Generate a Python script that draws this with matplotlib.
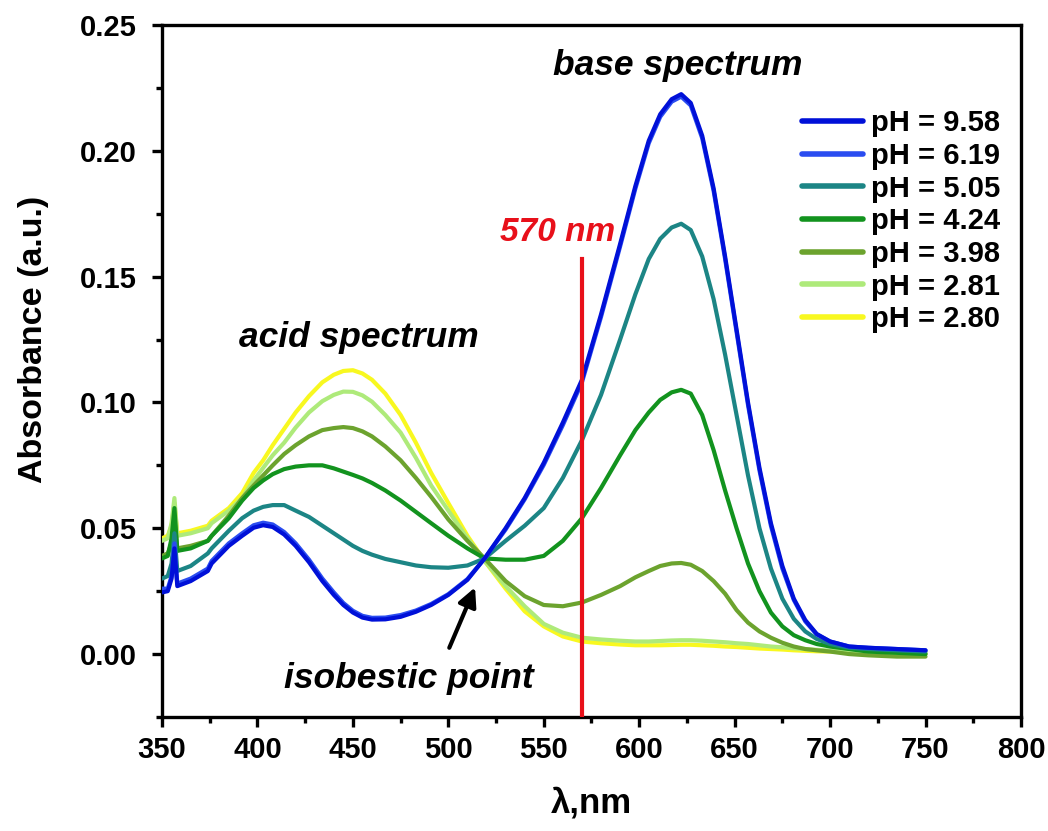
import matplotlib
matplotlib.use("Agg")
import matplotlib.pyplot as plt
from matplotlib.ticker import MultipleLocator

plt.rcParams['font.family'] = ['Liberation Sans', 'DejaVu Sans']

wavelength = [350, 353, 355, 356.5, 358, 365, 374, 376, 385, 392, 398, 403, 408, 414, 420,
              427, 434, 440, 445, 450, 455, 460, 467, 475, 483, 491, 500, 510,
              519, 530, 540, 550, 560, 570, 580, 590, 598, 605, 611, 617, 622, 627, 633,
              639, 645, 651, 657, 663, 669, 675, 681, 687, 693, 700, 710, 720, 735, 750]

ph_958 = [0.0245, 0.025, 0.030, 0.042, 0.027, 0.029, 0.033, 0.036, 0.043, 0.047, 0.0502, 0.0512,
          0.0505, 0.0475, 0.043, 0.0365, 0.029, 0.0235, 0.0195, 0.0165, 0.0145, 0.0137, 0.0138,
          0.0148, 0.0168, 0.0195, 0.0235, 0.0295,
          0.038, 0.050, 0.062, 0.076, 0.092, 0.109, 0.135, 0.163, 0.186, 0.204, 0.2145, 0.2205,
          0.2225, 0.219, 0.206, 0.185, 0.158, 0.129, 0.100, 0.074, 0.052, 0.035, 0.022, 0.0135,
          0.008, 0.005, 0.003, 0.0025, 0.002, 0.0015]
ph_619 = [0.026, 0.026, 0.031, 0.044, 0.028, 0.030, 0.034, 0.037, 0.044, 0.048, 0.0512, 0.0522,
          0.0515, 0.0485, 0.044, 0.0375, 0.030, 0.0245, 0.0203, 0.0172, 0.0152, 0.0144, 0.0145,
          0.0155, 0.0173, 0.0199, 0.0238, 0.0298,
          0.038, 0.0495, 0.0615, 0.0752, 0.091, 0.108, 0.134, 0.162, 0.185, 0.203, 0.2135, 0.2195,
          0.2215, 0.218, 0.205, 0.184, 0.157, 0.128, 0.099, 0.073, 0.051, 0.034, 0.0215, 0.013,
          0.0078, 0.005, 0.003, 0.0025, 0.002, 0.0015]
ph_505 = [0.030, 0.031, 0.036, 0.048, 0.033, 0.035, 0.040, 0.042, 0.049, 0.054, 0.057, 0.0585,
          0.0592, 0.0592, 0.057, 0.0545, 0.051, 0.048, 0.0455, 0.043, 0.041, 0.0395, 0.0378,
          0.0365, 0.0352, 0.0345, 0.0343, 0.0352,
          0.038, 0.045, 0.051, 0.058, 0.070, 0.085, 0.103, 0.125, 0.143, 0.157, 0.165, 0.1695,
          0.171, 0.1685, 0.158, 0.141, 0.119, 0.095, 0.071, 0.050, 0.034, 0.022, 0.014, 0.009,
          0.006, 0.004, 0.0025, 0.002, 0.0015, 0.001]
ph_424 = [0.038, 0.039, 0.046, 0.058, 0.041, 0.042, 0.045, 0.047, 0.054, 0.061, 0.066, 0.069,
          0.0715, 0.0735, 0.0745, 0.075, 0.075, 0.0738, 0.0725, 0.0712, 0.0698, 0.068, 0.065,
          0.061, 0.0565, 0.052, 0.047, 0.042,
          0.038, 0.0375, 0.0375, 0.039, 0.045, 0.054, 0.066, 0.079, 0.089, 0.096, 0.101, 0.104,
          0.105, 0.1035, 0.095, 0.081, 0.065, 0.050, 0.036, 0.025, 0.0165, 0.011, 0.0075, 0.0055,
          0.004, 0.003, 0.002, 0.001, 0.0005, 0.0]
ph_398 = [0.039, 0.040, 0.044, 0.054, 0.042, 0.043, 0.045, 0.047, 0.055, 0.062, 0.067, 0.071,
          0.075, 0.0795, 0.083, 0.0865, 0.089, 0.0898, 0.0902, 0.0898, 0.0885, 0.0865, 0.0825,
          0.077, 0.070, 0.0625, 0.0535, 0.045,
          0.038, 0.029, 0.023, 0.0195, 0.019, 0.0205, 0.0235, 0.027, 0.0305, 0.033, 0.035, 0.036,
          0.0362, 0.0355, 0.033, 0.029, 0.024, 0.0175, 0.0125, 0.009, 0.0065, 0.0045, 0.003,
          0.002, 0.0015, 0.001, 0.0, -0.0005, -0.001, -0.001]
ph_281 = [0.045, 0.046, 0.052, 0.062, 0.047, 0.048, 0.050, 0.052, 0.057, 0.062, 0.069, 0.074,
          0.079, 0.084, 0.090, 0.096, 0.1005, 0.103, 0.1043, 0.1042, 0.1028, 0.1003, 0.095,
          0.088, 0.078, 0.067, 0.057, 0.046,
          0.037, 0.027, 0.019, 0.012, 0.0085, 0.0065, 0.0058, 0.0053, 0.005, 0.005, 0.0052,
          0.0054, 0.0055, 0.0055, 0.0053, 0.005, 0.0047, 0.0043, 0.004, 0.0035, 0.003, 0.0027,
          0.0023, 0.002, 0.0017, 0.0014, 0.001, 0.0007, 0.0004, 0.0002]
ph_280 = [0.046, 0.047, 0.051, 0.060, 0.048, 0.049, 0.051, 0.053, 0.058, 0.064, 0.072, 0.077,
          0.083, 0.0895, 0.096, 0.1025, 0.108, 0.111, 0.1125, 0.1128, 0.1115, 0.109, 0.1035,
          0.095, 0.084, 0.072, 0.060, 0.047,
          0.037, 0.026, 0.017, 0.011, 0.007, 0.005, 0.0043, 0.0038, 0.0035, 0.0035, 0.0035,
          0.0036, 0.0037, 0.0037, 0.0035, 0.0033, 0.003, 0.0028, 0.0025, 0.0022, 0.002, 0.0018,
          0.0015, 0.0013, 0.0011, 0.001, 0.0008, 0.0006, 0.0003, 0.0001]

series = [ph_958, ph_619, ph_505, ph_424, ph_398, ph_281, ph_280]
labels = ["pH = 9.58", "pH = 6.19", "pH = 5.05", "pH = 4.24", "pH = 3.98", "pH = 2.81", "pH = 2.80"]
colors = ["#0010D8", "#2A4CF0", "#1C8585", "#12931E", "#6CA32E", "#AEEA7A", "#F8F820"]

marker_nm = 570
marker_top = 0.157

fig = plt.figure(figsize=(10.48, 8.31), dpi=100)
ax = fig.add_axes([0.1546, 0.1372, 0.8196, 0.8328])

n = len(series)
for i, (ys, lab, col) in enumerate(zip(series, labels, colors)):
    ax.plot(wavelength, ys, color=col, lw=3.0, label=lab, zorder=10 + (n - i),
            solid_joinstyle='round', solid_capstyle='round')

ax.plot([marker_nm, marker_nm], [-0.025, marker_top], color="#E8101A", lw=3.0, zorder=30)

ax.set_xlim(350, 800)
ax.set_ylim(-0.025, 0.25)
ax.xaxis.set_major_locator(MultipleLocator(50))
ax.xaxis.set_minor_locator(MultipleLocator(25))
ax.yaxis.set_major_locator(MultipleLocator(0.05))
ax.yaxis.set_minor_locator(MultipleLocator(0.025))
ax.yaxis.set_major_formatter(plt.FuncFormatter(lambda v, p: f"{v:.2f}"))

for s in ax.spines.values():
    s.set_linewidth(2.4)
ax.tick_params(which='major', direction='out', length=7, width=2.4, labelsize=21,
               top=False, right=False)
ax.tick_params(axis='x', which='major', pad=7)
ax.tick_params(axis='y', which='major', pad=11)
ax.tick_params(which='minor', direction='out', length=4, width=2.4, top=False, right=False)
for lbl in ax.get_xticklabels() + ax.get_yticklabels():
    lbl.set_fontweight('bold')

ax.set_xlabel("λ,nm", fontsize=25, fontweight='bold')
ax.xaxis.set_label_coords(0.5, -0.10)
ax.set_ylabel("Absorbance (a.u.)", fontsize=24.5, fontweight='bold')
ax.yaxis.set_label_coords(-0.131, 0.545)

ax.text(620.3, 0.2338, "base spectrum", fontsize=25.5, fontweight='bold', style='italic',
        ha='center', va='center')
ax.text(453.2, 0.1256, "acid spectrum", fontsize=25.5, fontweight='bold', style='italic',
        ha='center', va='center')
ax.text(557.4, 0.1676, "570 nm", fontsize=24, fontweight='bold', style='italic',
        color="#E8101A", ha='center', va='center')
ax.text(479.4, -0.0099, "isobestic point", fontsize=25.5, fontweight='bold', style='italic',
        ha='center', va='center')
ax.annotate("", xy=(514, 0.0265), xytext=(500.5, 0.0025),
            arrowprops=dict(arrowstyle='-|>', lw=3, color='black', mutation_scale=28,
                            shrinkA=0, shrinkB=0), zorder=40)

leg = ax.legend(loc='upper right', bbox_to_anchor=(0.9755, 0.878), frameon=False,
                fontsize=21, handlelength=2.1, handletextpad=0.25, labelspacing=0.16,
                borderaxespad=0.0, borderpad=0.0)
for t in leg.get_texts():
    t.set_fontweight('bold')
for h in leg.get_lines():
    h.set_linewidth(4)

fig.savefig("out.png", dpi=100)
